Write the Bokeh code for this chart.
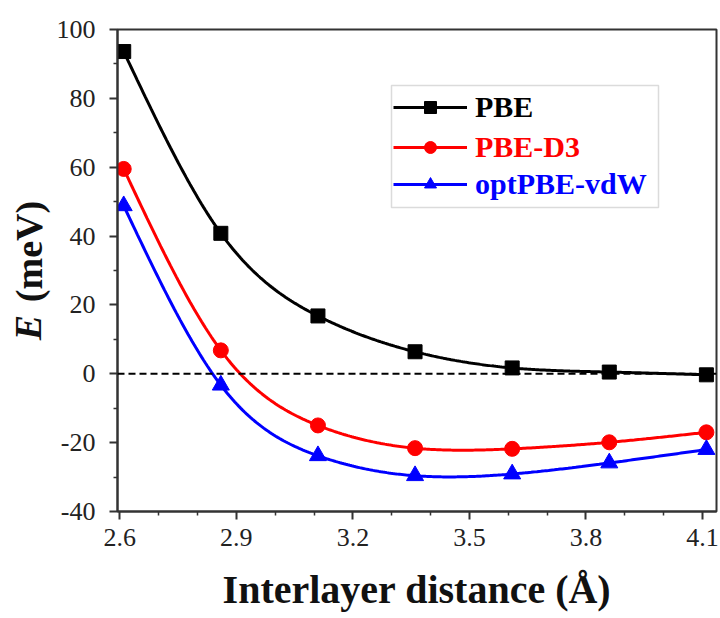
import numpy as np
from bokeh.plotting import figure
from bokeh.models import (Range1d, FixedTicker, Legend, LegendItem, Span,
                          BoxAnnotation, LinearAxis)
from bokeh.embed import file_html
from bokeh.resources import INLINE

# ---- data ----
distance = [2.61, 2.86, 3.11, 3.36, 3.61, 3.86, 4.11]
pbe = [93.6, 40.8, 16.8, 6.4, 1.7, 0.5, -0.3]
pbe_d3 = [59.5, 6.8, -15.0, -21.6, -21.8, -19.9, -17.0]
opt_vdw = [48.8, -3.3, -23.8, -29.6, -29.1, -25.9, -22.0]
series_names = ["PBE", "PBE-D3", "optPBE-vdW"]
x_ticks = [2.6, 2.9, 3.2, 3.5, 3.8, 4.1]
x_minor = [2.7, 2.8, 3.0, 3.1, 3.3, 3.4, 3.6, 3.7, 3.9, 4.0]
y_ticks = [-40, -20, 0, 20, 40, 60, 80, 100]
y_minor = [-30, -10, 10, 30, 50, 70, 90]
y_tick_labels = ["-40", "-20", "0", "20", "40", "60", "80", "100"]

SERIF = "Liberation Serif"
NBSP = "\u00a0"


def spline_path(x, y, n=300):
    """Smooth (natural cubic spline) connecting line through the data points."""
    x = np.asarray(x, float)
    y = np.asarray(y, float)
    k = len(x)
    h = np.diff(x)
    A = np.zeros((k, k))
    b = np.zeros(k)
    A[0, 0] = A[-1, -1] = 1.0
    for i in range(1, k - 1):
        A[i, i - 1] = h[i - 1]
        A[i, i] = 2 * (h[i - 1] + h[i])
        A[i, i + 1] = h[i]
        b[i] = 6 * ((y[i + 1] - y[i]) / h[i] - (y[i] - y[i - 1]) / h[i - 1])
    M = np.linalg.solve(A, b)
    xs = np.linspace(x[0], x[-1], n)
    idx = np.clip(np.searchsorted(x, xs) - 1, 0, k - 2)
    x0, x1 = x[idx], x[idx + 1]
    hh = x1 - x0
    t0 = x1 - xs
    t1 = xs - x0
    ys = (M[idx] * t0 ** 3 / (6 * hh) + M[idx + 1] * t1 ** 3 / (6 * hh)
          + (y[idx] / hh - M[idx] * hh / 6) * t0
          + (y[idx + 1] / hh - M[idx + 1] * hh / 6) * t1)
    return xs, ys


p = figure(width=720, height=618, output_backend="svg", toolbar_location=None,
           x_range=Range1d(2.594, 4.136), y_range=Range1d(-40, 100),
           min_border_left=117, min_border_right=4, min_border_top=29,
           min_border_bottom=107)
p.xgrid.visible = False
p.ygrid.visible = False
p.outline_line_color = "#333333"
p.outline_line_width = 2
p.background_fill_color = "white"
p.border_fill_color = "white"

p.xaxis.ticker = FixedTicker(ticks=x_ticks, minor_ticks=x_minor)
p.yaxis.ticker = FixedTicker(ticks=y_ticks, minor_ticks=y_minor)
p.yaxis.major_label_overrides = {t: s for t, s in zip(y_ticks, y_tick_labels)}
p.axis.axis_line_width = 2
p.axis.axis_line_color = "#333333"
p.axis.major_tick_line_width = 2
p.axis.major_tick_line_color = "#333333"
p.axis.minor_tick_line_width = 1.5
p.axis.minor_tick_line_color = "#333333"
p.axis.major_tick_in = 0
p.axis.major_tick_out = 8
p.axis.minor_tick_in = 0
p.axis.minor_tick_out = 4
p.axis.major_label_text_font = SERIF
p.axis.major_label_text_font_size = "26px"
p.axis.major_label_text_color = "#222222"
p.xaxis.major_label_standoff = 9
p.yaxis.major_label_standoff = 14

p.xaxis.axis_label = "Interlayer distance (Å)"
p.xaxis.axis_label_text_font = SERIF
p.xaxis.axis_label_text_font_size = "40px"
p.xaxis.axis_label_text_font_style = "bold"
p.xaxis.axis_label_text_color = "#111111"
p.xaxis.axis_label_standoff = 18


def label_axis(text, style, standoff):
    ax = LinearAxis(ticker=FixedTicker(ticks=[], minor_ticks=[]),
                    axis_line_alpha=0, major_tick_line_alpha=0,
                    minor_tick_line_alpha=0, major_label_text_alpha=0,
                    axis_label=text, axis_label_text_font=SERIF,
                    axis_label_text_font_size="38px",
                    axis_label_text_font_style=style,
                    axis_label_text_color="#111111",
                    axis_label_standoff=standoff)
    p.add_layout(ax, "left")
    return ax


# y-axis title: "(meV)" upright bold with italic bold "E" below it
# (non-breaking spaces shift each part along the axis)
label_axis(NBSP * 4 + "(meV)", "bold", 4)
label_axis("E" + NBSP * 12, "bold italic", -44)

# zero reference line
p.add_layout(Span(location=0, dimension="width", line_color="black",
                  line_width=2, line_dash="7 4"))

colors = ["black", "red", "blue"]
values = [pbe, pbe_d3, opt_vdw]
markers = ["square", "circle", "triangle"]
sizes = [14, 15, 17]

renderer_sets = []
for vals, c, m, s in zip(values, colors, markers, sizes):
    sx, sy = spline_path(distance, vals)
    ln = p.line(sx, sy, line_color=c, line_width=3)
    sc = p.scatter(distance, vals, marker=m, size=s, fill_color=c, line_color=c)
    renderer_sets.append([ln, sc])

# legend (one per series so each label keeps its own colour)
row_y = [387, 347, 310]
for name, c, rs, ry in zip(series_names, colors, renderer_sets, row_y):
    lg = Legend(items=[LegendItem(label=name, renderers=rs)], location=(276, ry),
                padding=0, margin=0, spacing=0, glyph_width=74, glyph_height=30,
                label_height=30, label_standoff=8, border_line_alpha=0,
                background_fill_alpha=0, label_text_font=SERIF,
                label_text_font_size="30px", label_text_font_style="bold",
                label_text_color=c, label_text_baseline="middle")
    p.add_layout(lg)

p.add_layout(BoxAnnotation(left=274, right=541, bottom=304, top=426,
                           left_units="screen", right_units="screen",
                           top_units="screen", bottom_units="screen",
                           fill_alpha=0, line_color="#888888", line_width=1.5))

open("out.html", "w").write(file_html(p, INLINE))
